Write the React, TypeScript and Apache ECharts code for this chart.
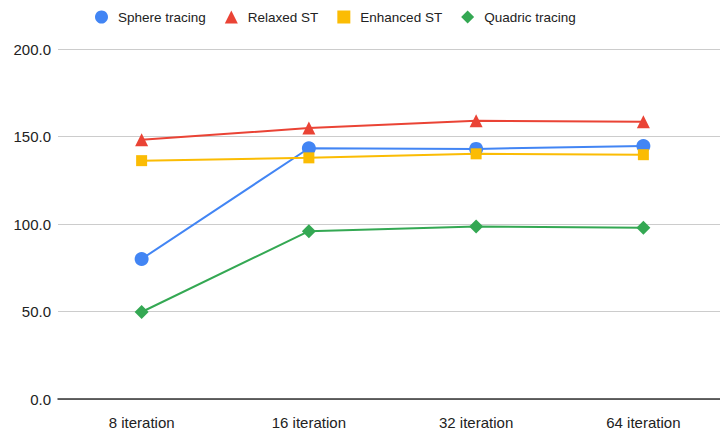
import React, { useEffect, useRef } from "react";
import * as echarts from "echarts";

const categories = ["8 iteration", "16 iteration", "32 iteration", "64 iteration"];
const sphereTracing = [80.0, 143.3, 142.9, 144.6];
const relaxedST = [148.2, 154.8, 159.0, 158.4];
const enhancedST = [136.2, 137.8, 140.1, 139.6];
const quadricTracing = [49.7, 95.9, 98.6, 97.9];
const yTicks = [0, 50, 100, 150, 200];

const FONT = "Liberation Sans, Arial, sans-serif";

export default function App() {
  const ref = useRef<HTMLDivElement>(null);
  useEffect(() => {
    if (!ref.current) return;
    const chart = echarts.init(ref.current, undefined, { renderer: "svg" });
    const mk = (name: string, data: number[], color: string, symbol: string, size: number) => ({
      name,
      type: "line",
      data,
      symbol,
      symbolSize: size,
      showAllSymbol: true,
      lineStyle: { color, width: 2 },
      itemStyle: { color },
      emphasis: { disabled: true },
    });
    chart.setOption({
      animation: false,
      textStyle: { fontFamily: FONT },
      legend: {
        top: 5,
        left: 90,
        itemWidth: 13,
        itemHeight: 13,
        itemGap: 19,
        textStyle: { fontSize: 13.5, color: "#222", fontFamily: FONT, padding: [0, 0, 0, 5] },
        data: [
          { name: "Sphere tracing", icon: "circle" },
          { name: "Relaxed ST", icon: "triangle" },
          { name: "Enhanced ST", icon: "rect" },
          { name: "Quadric tracing", icon: "diamond" },
        ],
      },
      grid: { left: 58, top: 49, width: 669, height: 350, containLabel: false },
      xAxis: {
        type: "category",
        data: categories,
        boundaryGap: true,
        axisLine: { lineStyle: { color: "#333", width: 1.5 } },
        axisTick: { alignWithLabel: true, length: 6, lineStyle: { color: "#333" } },
        axisLabel: { fontSize: 15, color: "#222", margin: 16, fontFamily: FONT },
      },
      yAxis: {
        type: "value",
        min: yTicks[0],
        max: yTicks[yTicks.length - 1],
        interval: 50,
        axisLine: { show: false },
        axisTick: { show: false },
        splitLine: { lineStyle: { color: "#ccc", width: 1 } },
        axisLabel: {
          fontSize: 15,
          color: "#222",
          margin: 7,
          fontFamily: FONT,
          formatter: (v: number) => v.toFixed(1),
        },
      },
      series: [
        mk("Sphere tracing", sphereTracing, "#4285F4", "circle", 14),
        mk("Relaxed ST", relaxedST, "#EA4335", "triangle", 13),
        mk("Enhanced ST", enhancedST, "#FBBC04", "rect", 11),
        mk("Quadric tracing", quadricTracing, "#34A853", "diamond", 14),
      ],
    });
    return () => chart.dispose();
  }, []);
  return (
    <div
      style={{
        position: "absolute",
        left: 0,
        top: 0,
        width: 720,
        height: 435,
        overflow: "hidden",
        background: "#fff",
      }}
    >
      <div ref={ref} style={{ width: 730, height: 435 }} />
    </div>
  );
}
